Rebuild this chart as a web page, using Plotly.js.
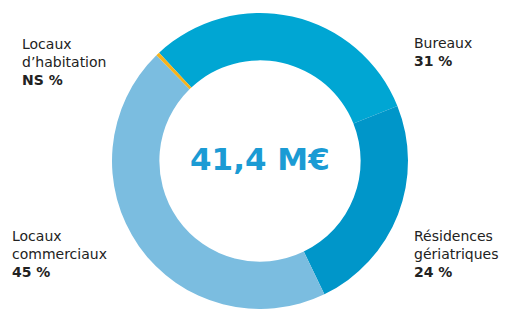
<!DOCTYPE html>
<html>
<head>
<meta charset="utf-8">
<script src="https://cdn.plot.ly/plotly-3.0.1.min.js"></script>
<style>html,body{margin:0;padding:0;background:#fff;}#chart{width:507px;height:309px;}</style>
</head>
<body>
<div id="chart"></div>
<script>
var categories = ["Bureaux", "Résidences gériatriques", "Locaux commerciaux", "Locaux d’habitation"];
var values = [31, 24, 45, 0.4];
var valueLabels = ["31 %", "24 %", "45 %", "NS %"];
var colors = ["#00a6d3", "#0096c9", "#7bbde0", "#f5b21c"];
var totalLabel = "41,4 M€";

var W = 507, H = 309;
var cx = 260, cy = 161, r = 148;

var trace = {
  type: "pie",
  labels: categories,
  values: values,
  sort: false,
  direction: "clockwise",
  rotation: -43,
  hole: 0.68,
  textinfo: "none",
  hoverinfo: "label+percent",
  marker: {colors: colors, line: {width: 0}},
  domain: {x: [(cx - r) / W, (cx + r) / W], y: [(H - cy - r) / H, (H - cy + r) / H]},
  showlegend: false
};

var lf = {family: "DejaVu Sans", size: 14, color: "#222"};
function lab(x, y, name, val, align) {
  return {
    xref: "paper", yref: "paper", x: x / W, y: 1 - y / H,
    xanchor: "left", yanchor: "top", align: "left",
    showarrow: false, font: lf,
    text: name + "<br><b>" + val + "</b>"
  };
}

var layout = {
  width: W, height: H,
  margin: {l: 0, r: 0, t: 0, b: 0},
  paper_bgcolor: "#fff",
  showlegend: false,
  annotations: [
    lab(20, 34, "Locaux<br>d’habitation", valueLabels[3]),
    lab(412, 33, "Bureaux", valueLabels[0]),
    lab(412, 226, "Résidences<br>gériatriques", valueLabels[1]),
    lab(10, 226, "Locaux<br>commerciaux", valueLabels[2]),
    {xref: "paper", yref: "paper", x: cx / W, y: 1 - 159 / H, xanchor: "center", yanchor: "middle",
     showarrow: false, text: "<b>" + totalLabel + "</b>",
     font: {family: "DejaVu Sans", size: 31, color: "#1b9bd4"}}
  ]
};

Plotly.newPlot("chart", [trace], layout, {staticPlot: true, displayModeBar: false});
</script>
</body>
</html>
